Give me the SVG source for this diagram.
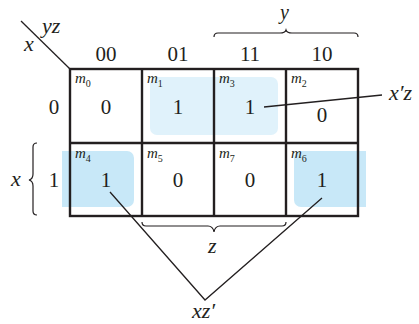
<svg xmlns="http://www.w3.org/2000/svg" width="419" height="324" viewBox="0 0 419 324" font-family="'Liberation Serif', 'Times New Roman', 'DejaVu Serif', serif">
<style>
text{font-family:'Liberation Serif','Times New Roman','DejaVu Serif',serif;fill:#231f20}
.v{font-size:21px;text-anchor:middle}
.h{font-size:21px;text-anchor:middle}
.i{font-style:italic;font-size:22px}
.m{font-style:italic;font-size:15px}
.s{font-size:10px;font-style:normal}
.grid{fill:none;stroke:#231f20;stroke-width:2.4}
.ln{fill:none;stroke:#231f20;stroke-width:1.3}
.br{fill:none;stroke:#231f20;stroke-width:1.2}
</style>
<g id="highlights">
<rect x="150" y="77" width="128" height="58" rx="7" fill="#e0f2fb"/>
<path d="M62 151 H127 A7 7 0 0 1 134 158 V200 A7 7 0 0 1 127 207 H62 Z" fill="#c8e8f8"/>
<path d="M366 151 H301 A7 7 0 0 0 294 158 V200 A7 7 0 0 0 301 207 H366 Z" fill="#c8e8f8"/>
</g>
<g id="grid">
<rect class="grid" x="70" y="69" width="288" height="147"/>
<line class="grid" x1="70" y1="143" x2="358" y2="143"/>
<line class="grid" x1="142" y1="69" x2="142" y2="216"/>
<line class="grid" x1="214" y1="69" x2="214" y2="216"/>
<line class="grid" x1="286" y1="69" x2="286" y2="216"/>
<line class="ln" x1="21" y1="21" x2="70" y2="69"/>
</g>
<g id="labels">
<text class="i" x="42" y="33">yz</text>
<text class="i" x="24" y="51">x</text>
<text class="h" x="106" y="61">00</text>
<text class="h" x="178" y="61">01</text>
<text class="h" x="250" y="61">11</text>
<text class="h" x="322" y="61">10</text>
<text class="h" x="54" y="114">0</text>
<text class="h" x="54" y="187">1</text>
<text class="i" x="11" y="186">x</text>
<text class="i" x="280" y="19" style="font-size:20px">y</text>
<text class="i" x="208" y="253">z</text>
</g>
<g id="braces">
<path class="br" d="M214 37 Q214 33 218 33 H280 Q285 33 286 30 Q287 33 292 33 H354 Q358 33 358 37"/>
<path class="br" d="M142 222 Q142 226 146 226 H208 Q213 226 214 232 Q215 226 220 226 H282 Q286 226 286 222"/>
<path class="br" d="M37 143 Q33 143 33 147 V174 Q33 179 29 180 Q33 181 33 186 V211 Q33 215 37 215"/>
</g>
<g id="cell-m0"><text class="m" x="75" y="83">m<tspan class="s" dy="4">0</tspan></text><text class="v" x="106" y="114">0</text></g>
<g id="cell-m1"><text class="m" x="147" y="83">m<tspan class="s" dy="4">1</tspan></text><text class="v" x="178" y="114">1</text></g>
<g id="cell-m3"><text class="m" x="219" y="83">m<tspan class="s" dy="4">3</tspan></text><text class="v" x="250" y="114">1</text></g>
<g id="cell-m2"><text class="m" x="291" y="83">m<tspan class="s" dy="4">2</tspan></text><text class="v" x="322" y="122">0</text></g>
<g id="cell-m4"><text class="m" x="75" y="158">m<tspan class="s" dy="4">4</tspan></text><text class="v" x="106" y="187">1</text></g>
<g id="cell-m5"><text class="m" x="147" y="158">m<tspan class="s" dy="4">5</tspan></text><text class="v" x="178" y="187">0</text></g>
<g id="cell-m7"><text class="m" x="219" y="158">m<tspan class="s" dy="4">7</tspan></text><text class="v" x="250" y="187">0</text></g>
<g id="cell-m6"><text class="m" x="291" y="158">m<tspan class="s" dy="4">6</tspan></text><text class="v" x="322" y="187">1</text></g>
<g id="connectors">
<line class="ln" x1="264" y1="107" x2="382" y2="95"/>
<polyline class="ln" points="110,192 205,300 322,198"/>
</g>
<g id="terms">
<text class="i" x="389" y="100">x′z</text>
<text class="i" x="192" y="318">xz′</text>
</g>
</svg>
